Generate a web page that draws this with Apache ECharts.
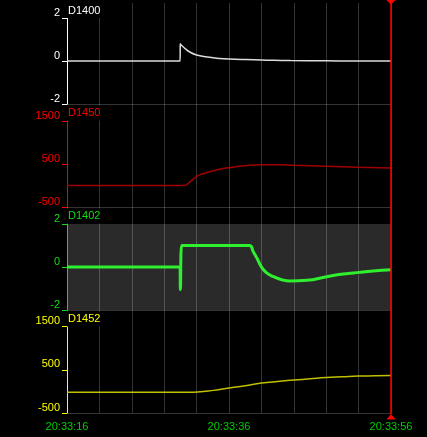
<!DOCTYPE html>
<html>
<head>
<meta charset="utf-8">
<script src="https://cdn.jsdelivr.net/npm/echarts@6/dist/echarts.min.js"></script>
<style>
html,body{margin:0;padding:0;background:#000;}
#c{width:427px;height:437px;}
</style>
</head>
<body>
<div id="c"></div>
<script>
// ---- data (time in seconds after 20:33:16) ----
const startClock = [20, 33, 16];
const xLabelEvery = 20;
const cursorTime = 40;

const seriesNames = ['D1400', 'D1450', 'D1402', 'D1452'];

const d1400T = [0, 13.95, 14.0, 14.1, 14.55, 15.1, 16.0, 17.6, 18.8, 20, 22, 24, 27.6, 32, 36, 40];
const d1400V = [0, 0, 0.8, 0.74, 0.59, 0.43, 0.28, 0.17, 0.12, 0.09, 0.065, 0.05, 0.02, 0.01, 0.0, 0.0];

const d1450T = [0, 14.4, 15.2, 16.1, 17.1, 18.1, 19, 20, 22, 24, 26.3, 28, 32, 36, 40];
const d1450V = [0, 0, 90, 223, 292, 345, 385, 415, 461, 484, 484, 470, 447, 424, 408];

const d1402T = [0, 13.95, 14.0, 14.15, 22.5, 23.0, 23.5, 24.0, 24.65, 25.5, 26.5, 27.5, 29.6, 32.1, 34.1, 36.1, 37.8, 40];
const d1402V = [0, 0, -1.05, 1.0, 1.0, 0.71, 0.37, 0.01, -0.27, -0.45, -0.59, -0.65, -0.62, -0.45, -0.33, -0.25, -0.19, -0.13];

const d1452T = [0, 15.2, 16.1, 18.1, 20, 22, 24, 26, 28, 30, 32, 34, 36, 38, 40];
const d1452V = [-20, -20, -16, 23, 76, 131, 191, 230, 261, 292, 323, 338, 353, 361, 369];

const yMins = [-2, -500, -2, -500];
const yMaxs = [2, 1500, 2, 1500];
const yIntervals = [2, 1000, 2, 1000];

// ---- styling / layout ----
const colors = ['#ffffff', '#ff0000', '#11dd11', '#ffff00'];
const lineColors = ['#dcdcdc', '#a00000', '#2ef02e', '#c0c000'];
const lineWidths = [1.5, 1.5, 3, 1.5];
const smoothness = [0.5, 0.5, 0.5, 0.5];
const bgTops = [3, 104, 207, 310];
const bgBottoms = [104, 207, 310, 413];
const dataTops = [18, 121, 224, 326.5];
const gridLeft = 67, gridRight = 36;
const font = 'Liberation Sans';
const gridCol = 'rgba(255,255,255,0.2)';

function clock(v) {
  let total = startClock[0] * 3600 + startClock[1] * 60 + startClock[2] + Math.round(v);
  const h = Math.floor(total / 3600) % 24, m = Math.floor(total / 60) % 60, s = total % 60;
  const p = n => (n < 10 ? '0' : '') + n;
  return p(h) + ':' + p(m) + ':' + p(s);
}

const allT = [d1400T, d1450T, d1402T, d1452T];
const allV = [d1400V, d1450V, d1402V, d1452V];

const grids = [], xAxes = [], yAxes = [], series = [], titles = [];
for (let i = 0; i < 4; i++) {
  grids.push({left: gridLeft, right: gridRight, top: bgTops[i], height: bgBottoms[i] - bgTops[i], show: false});
  xAxes.push({
    gridIndex: i, type: 'value', min: 0, max: 40, interval: 4,
    axisLine: {show: true, lineStyle: {color: gridCol, width: 1}},
    axisTick: {show: false},
    splitLine: {show: true, lineStyle: {color: gridCol, width: 1}},
    axisLabel: {
      show: i === 3, color: '#00cc00', fontFamily: font, fontSize: 11, margin: 8,
      showMinLabel: true, showMaxLabel: true,
      formatter: v => (Math.round(v) % xLabelEvery === 0 ? clock(v) : '')
    }
  });
  yAxes.push({gridIndex: i, type: 'value', min: 0, max: 1, show: false});
}
for (let i = 0; i < 4; i++) {
  const g = 4 + i;
  grids.push({
    left: gridLeft, right: gridRight, top: dataTops[i], height: bgBottoms[i] - dataTops[i],
    show: i === 2, backgroundColor: i === 2 ? '#2a2a2a' : 'transparent', borderWidth: 0
  });
  xAxes.push({gridIndex: g, type: 'value', min: 0, max: 40, show: false});
  yAxes.push({
    gridIndex: g, type: 'value', min: yMins[i], max: yMaxs[i], interval: yIntervals[i], offset: 3,
    axisLine: {show: true, lineStyle: {color: colors[i], width: 1}},
    axisTick: {show: true, length: 5, lineStyle: {color: colors[i], width: 1}},
    splitLine: {show: false},
    axisLabel: {color: colors[i], fontFamily: font, fontSize: 11, margin: 4, verticalAlign: 'bottom',
      formatter: v => String(v)}
  });
  series.push({
    type: 'line', xAxisIndex: g, yAxisIndex: g, name: seriesNames[i],
    data: allT[i].map((t, k) => [t, allV[i][k]]),
    showSymbol: false, smooth: smoothness[i],
    lineStyle: {color: lineColors[i], width: lineWidths[i]},
    animation: false, z: 3
  });
  titles.push({
    text: seriesNames[i], left: gridLeft, top: bgTops[i] + (i === 0 ? 0 : 1.5),
    padding: [1, 1, 1, 1], backgroundColor: '#000',
    textStyle: {color: colors[i], fontFamily: font, fontSize: 11, fontWeight: 'normal', lineHeight: 13}
  });
}

const chart = echarts.init(document.getElementById('c'));
chart.setOption({
  backgroundColor: '#000',
  animation: false,
  title: titles,
  grid: grids, xAxis: xAxes, yAxis: yAxes, series: series
});

const cx = chart.convertToPixel({xAxisIndex: 3}, cursorTime);
const cb = bgBottoms[3];
chart.setOption({
  graphic: [
    {type: 'line', shape: {x1: cx, y1: 0, x2: cx, y2: cb + 1}, style: {stroke: '#ff0000', lineWidth: 1.5}, z: 100},
    {type: 'polygon', shape: {points: [[cx - 4.5, 0], [cx + 4.5, 0], [cx, 4.5]]}, style: {fill: '#ff0000'}, z: 100},
    {type: 'polygon', shape: {points: [[cx, cb + 1], [cx - 4.5, cb + 6.5], [cx + 4.5, cb + 6.5]]}, style: {fill: '#ff0000'}, z: 100}
  ]
});
</script>
</body>
</html>
